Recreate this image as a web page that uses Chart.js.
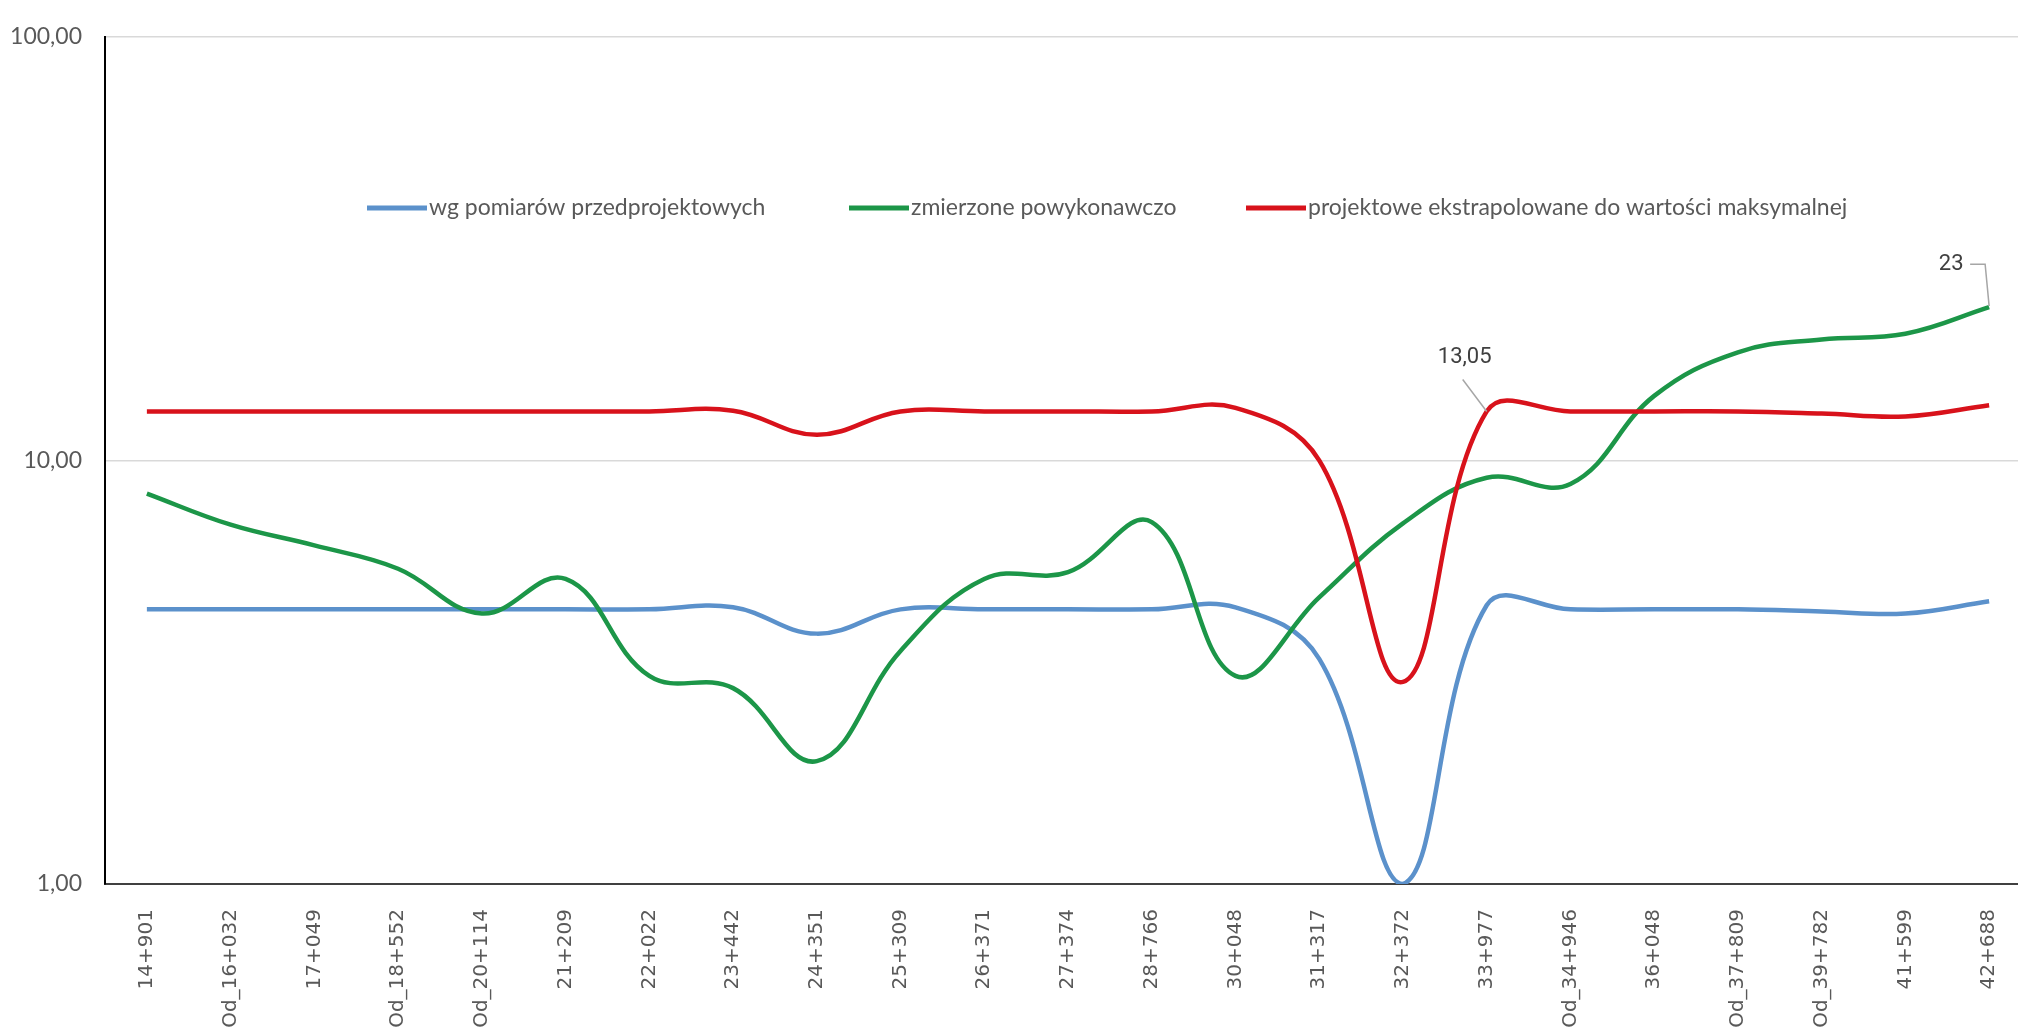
<!DOCTYPE html>
<html>
<head>
<meta charset="utf-8">
<script src="https://cdn.jsdelivr.net/npm/chart.js@4.4.1/dist/chart.umd.min.js"></script>
<style>
  html, body { margin: 0; padding: 0; background: #fff; overflow: hidden; }
  #wrap { width: 2031px; height: 1032px; position: relative; }
</style>
</head>
<body>
<div id="wrap"><canvas id="chart"></canvas></div>
<script>
const stations = ['14+901', 'Od_16+032', '17+049', 'Od_18+552', 'Od_20+114', '21+209', '22+022', '23+442',
    '24+351', '25+309', '26+371', '27+374', '28+766', '30+048', '31+317', '32+372', '33+977', 'Od_34+946',
    '36+048', 'Od_37+809', 'Od_39+782', '41+599', '42+688'];

const preDesign = [4.45, 4.45, 4.45, 4.45, 4.45, 4.45, 4.45, 4.5, 3.9, 4.45, 4.45, 4.45, 4.45, 4.5, 3.4, 1.0,
    4.55, 4.45, 4.45, 4.45, 4.4, 4.35, 4.65];
const asBuilt = [8.35, 7.05, 6.3, 5.55, 4.35, 5.25, 3.1, 2.9, 1.95, 3.55, 5.25, 5.45, 7.15, 3.1, 4.75, 7.1,
    9.1, 8.8, 14.2, 18.0, 19.3, 19.9, 23];
const designMax = [13.05, 13.05, 13.05, 13.05, 13.05, 13.05, 13.05, 13.1, 11.5, 13.05, 13.05, 13.05, 13.05, 13.3,
    10.0, 3.0, 13.05, 13.05, 13.05, 13.05, 12.9, 12.7, 13.5];

const yTicks = [1, 10, 100];

const seriesNames = ['wg pomiarów przedprojektowych', 'zmierzone powykonawczo', 'projektowe ekstrapolowane do wartości maksymalnej'];
const seriesColors = ['#5B91CB', '#1C9648', '#D8121B'];

// legend sits inside the plot, like the original
const legendX = [367, 849, 1246];
const legendY = 208;

// value callouts with leader lines
const callouts = [
    { dataset: 2, index: 16, text: '13,05', dx: -22, dy: -54, leader: [[-24, -32], [0, 0]] },
    { dataset: 1, index: 22, text: '23', dx: -38, dy: -43, leader: [[-19, -43], [-4, -43], [0, -1]] }
];

const overlayPlugin = {
    id: 'overlay',
    afterDatasetsDraw(chart) {
        const ctx = chart.ctx;
        ctx.save();

        // legend
        ctx.font = '23px Lato, "Open Sans", sans-serif';
        ctx.textBaseline = 'middle';
        ctx.textAlign = 'left';
        seriesNames.forEach((name, i) => {
            ctx.strokeStyle = seriesColors[i];
            ctx.lineWidth = 5;
            ctx.beginPath();
            ctx.moveTo(legendX[i], legendY);
            ctx.lineTo(legendX[i] + 60, legendY);
            ctx.stroke();
            ctx.fillStyle = '#595959';
            ctx.fillText(name, legendX[i] + 62, legendY);
        });

        // callouts
        callouts.forEach(c => {
            const pt = chart.getDatasetMeta(c.dataset).data[c.index];
            ctx.strokeStyle = '#a6a6a6';
            ctx.lineWidth = 1.5;
            ctx.beginPath();
            c.leader.forEach(([lx, ly], k) => {
                if (k === 0) ctx.moveTo(pt.x + lx, pt.y + ly);
                else ctx.lineTo(pt.x + lx, pt.y + ly);
            });
            ctx.stroke();
            ctx.fillStyle = '#404040';
            ctx.font = '22px "Liberation Sans Narrow", Roboto, sans-serif';
            ctx.textAlign = 'center';
            ctx.fillText(c.text, pt.x + c.dx, pt.y + c.dy);
        });

        ctx.restore();
    }
};

const ctx = document.getElementById('chart').getContext('2d');

new Chart(ctx, {
    type: 'line',
    data: {
        labels: stations,
        datasets: [preDesign, asBuilt, designMax].map((values, i) => ({
            label: seriesNames[i],
            data: values,
            borderColor: seriesColors[i],
            backgroundColor: seriesColors[i],
            borderWidth: 4.5,
            pointRadius: 0,
            tension: 0.4,
            fill: false,
            order: 3 - i
        }))
    },
    options: {
        responsive: true,
        maintainAspectRatio: false,
        animation: false,
        layout: { padding: { top: 25, left: 0, right: 0, bottom: 0 } },
        scales: {
            x: {
                offset: true,
                grid: { display: false },
                border: { display: true, color: '#404040', width: 2 },
                ticks: {
                    autoSkip: false,
                    minRotation: 90,
                    maxRotation: 90,
                    padding: 17,
                    color: '#595959',
                    font: { family: '"DejaVu Sans", sans-serif', size: 20 }
                },
                afterFit(scale) { scale.height = 148; }
            },
            y: {
                type: 'logarithmic',
                min: 1,
                max: 100,
                grid: { color: '#d9d9d9', lineWidth: 1.5, drawTicks: false },
                border: { display: true, color: '#000000', width: 2 },
                afterBuildTicks(scale) {
                    scale.ticks = yTicks.map(v => ({ value: v }));
                },
                ticks: {
                    padding: 23,
                    color: '#595959',
                    font: { family: 'Lato, sans-serif', size: 23 },
                    callback: v => v.toFixed(2).replace('.', ',')
                },
                afterFit(scale) { scale.width = 105; }
            }
        },
        plugins: {
            legend: { display: false },
            tooltip: { enabled: false }
        }
    },
    plugins: [overlayPlugin]
});
</script>
</body>
</html>
